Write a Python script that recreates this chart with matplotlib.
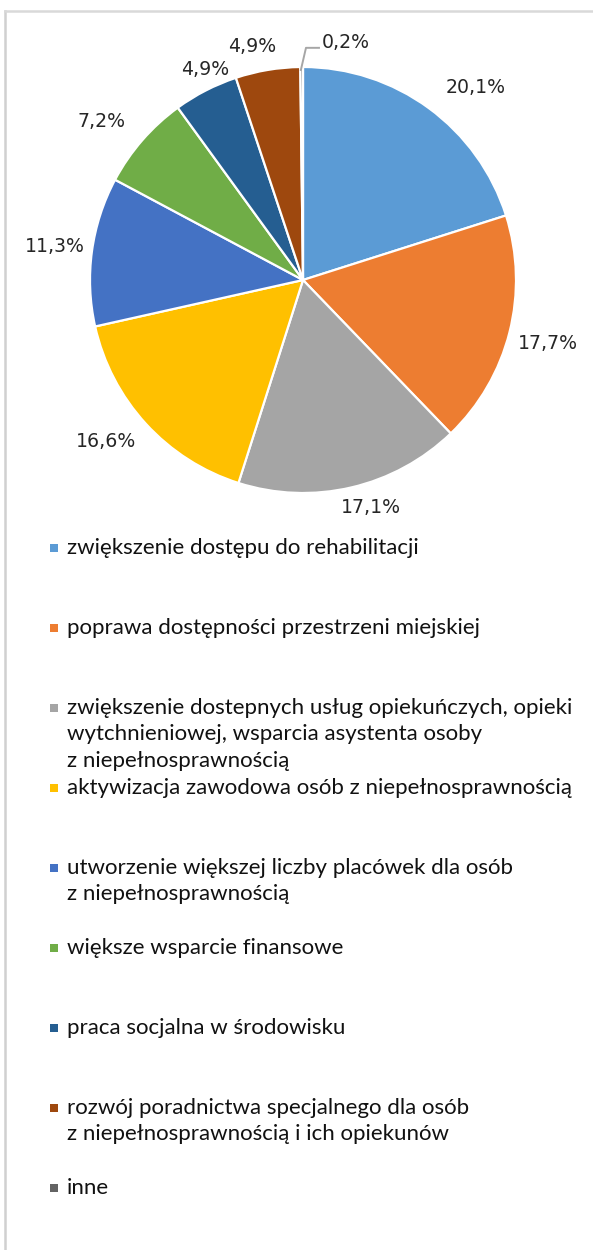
import numpy as np
import matplotlib
matplotlib.use('Agg')
import matplotlib.pyplot as plt
from matplotlib.patches import Rectangle
from matplotlib.lines import Line2D

# dane
categories = [
    'zwiększenie dostępu do rehabilitacji',
    'poprawa dostępności przestrzeni miejskiej',
    'zwiększenie dostepnych usług opiekuńczych, opieki\nwytchnieniowej, wsparcia asystenta osoby\nz niepełnosprawnością',
    'aktywizacja zawodowa osób z niepełnosprawnością',
    'utworzenie większej liczby placówek dla osób\nz niepełnosprawnością',
    'większe wsparcie finansowe',
    'praca socjalna w środowisku',
    'rozwój poradnictwa specjalnego dla osób\nz niepełnosprawnością i ich opiekunów',
    'inne',
]
values = [20.1, 17.7, 17.1, 16.6, 11.3, 7.2, 4.9, 4.9, 0.2]
colors = ['#5B9BD5', '#ED7D31', '#A5A5A5', '#FFC000', '#4472C4',
          '#70AD47', '#255E91', '#9E480E', '#636363']

# pozycje etykiet (w promieniach kola)
label_pos = [(0.81, 0.906), (1.15, -0.296), (0.32, -1.07), (-0.925, -0.76),
             (-1.164, 0.155), (-0.948, 0.742), (-0.46, 0.986), (-0.24, 1.094),
             (0.20, 1.117)]

W, H = 593, 1250
fig = plt.figure(figsize=(W / 100, H / 100), dpi=100)

# ramka (szara linia po lewej i u gory)
fig.add_artist(Line2D([5 / W, 5 / W], [0, 1 - 11 / H], transform=fig.transFigure,
                      color='#d0d0d0', lw=1.8))
fig.add_artist(Line2D([5 / W, 1], [1 - 11 / H, 1 - 11 / H], transform=fig.transFigure,
                      color='#d9d9d9', lw=1.8))

cx, cy, r = 303, 280, 213
ax = fig.add_axes([(cx - r) / W, (H - cy - r) / H, 2 * r / W, 2 * r / H])
ax.pie(values, colors=colors, startangle=90, counterclock=False, radius=1,
       wedgeprops=dict(edgecolor='white', linewidth=1.6))
ax.set_xlim(-1, 1)
ax.set_ylim(-1, 1)
ax.set_aspect('equal')
ax.axis('off')

for v, (x, y) in zip(values, label_pos):
    ax.text(x, y, f'{v:.1f}%'.replace('.', ','), ha='center', va='center',
            fontsize=13.6, family='DejaVu Sans', color='#262626', clip_on=False)

# linia do etykiety 0,2%
ax.plot([-0.01, 0.014, 0.075], [0.986, 1.09, 1.09], color='#a6a6a6', lw=1.4,
        clip_on=False)

# legenda
y0, step, lh = 548, 80, 26.5
for i, (name, c) in enumerate(zip(categories, colors)):
    y = y0 + step * i
    fig.add_artist(Rectangle((50 / W, 1 - (y + 4) / H), 8 / W, 8 / H,
                             transform=fig.transFigure, color=c, lw=0))
    for j, line in enumerate(name.split('\n')):
        fig.text(67 / W, 1 - (y + j * lh) / H, line, ha='left', va='center',
                 fontsize=16, family='Lato', color='#111111')

fig.savefig('out.png', dpi=100)
